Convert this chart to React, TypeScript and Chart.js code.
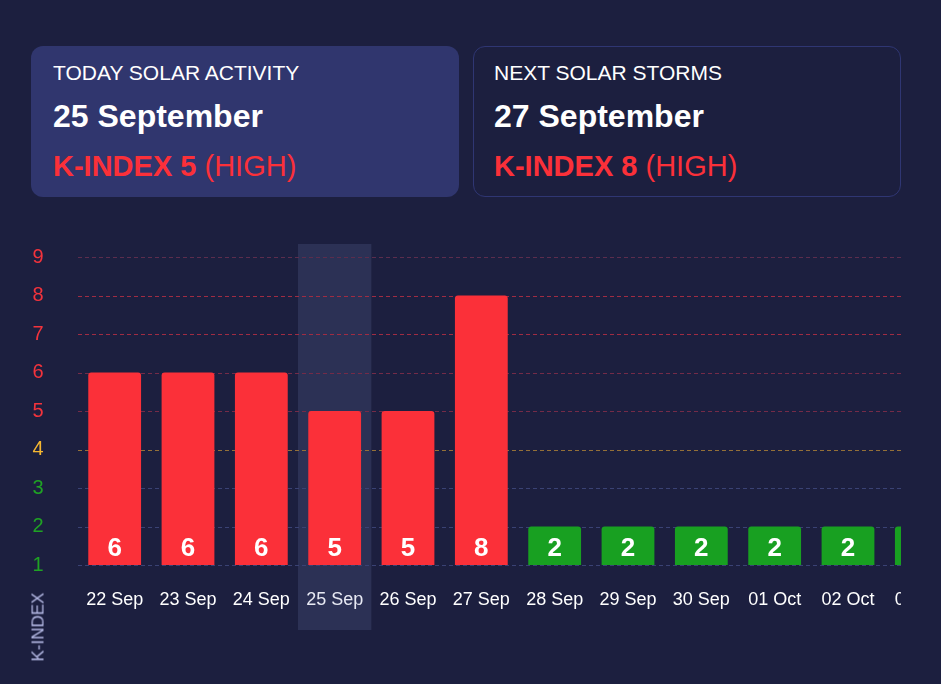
import React, { useEffect, useRef } from "react";
import { Chart, registerables } from "chart.js";

Chart.register(...registerables);

const categories = ["22 Sep", "23 Sep", "24 Sep", "25 Sep", "26 Sep", "27 Sep", "28 Sep", "29 Sep", "30 Sep", "01 Oct", "02 Oct", "03 Oct"];
const kIndexValues = [6, 6, 6, 5, 5, 8, 2, 2, 2, 2, 2, 2];
const yTickValues = [1, 2, 3, 4, 5, 6, 7, 8, 9];
const highlightIndex = 3;

const RED = "#fb3039";
const GREEN = "#18a021";
const YELLOW = "#f5b731";
const BG = "#1c1f3f";
const FONT = '"Liberation Sans", Arial, Helvetica, sans-serif';

function tickColor(v: number) {
  if (v >= 5) return "#f3333c";
  if (v === 4) return YELLOW;
  return "#1fa324";
}

function gridColor(v: number) {
  if (v === 9) return "#5c2d4d";
  if (v >= 7) return "#a02c43";
  if (v >= 5) return "#742b48";
  if (v === 4) return "#947038";
  return "#3a4274";
}

const gridPlugin = {
  id: "highlightAndGrid",
  beforeDatasetsDraw(chart: any) {
    const { ctx, scales, chartArea } = chart;
    const x = scales.x;
    const y = scales.y;
    const w = x.getPixelForValue(1) - x.getPixelForValue(0);
    const cx = x.getPixelForValue(highlightIndex);
    const top = y.getPixelForValue(9) - 13;
    const bottom = y.getPixelForValue(1) + 65;
    ctx.save();
    ctx.fillStyle = "rgba(120,135,190,0.18)";
    ctx.fillRect(cx - w / 2, top, w, bottom - top);
    ctx.lineWidth = 1;
    ctx.setLineDash([4, 3]);
    yTickValues.forEach((v) => {
      const py = Math.round(y.getPixelForValue(v)) + 0.5;
      ctx.strokeStyle = gridColor(v);
      ctx.beginPath();
      ctx.moveTo(chartArea.left, py);
      ctx.lineTo(chartArea.right, py);
      ctx.stroke();
    });
    ctx.restore();
  },
};

const valueLabelPlugin = {
  id: "valueLabels",
  afterDatasetsDraw(chart: any) {
    const { ctx, scales } = chart;
    const meta = chart.getDatasetMeta(0);
    const yBase = scales.y.getPixelForValue(1);
    ctx.save();
    ctx.fillStyle = "#ffffff";
    ctx.font = `bold 26px ${FONT}`;
    ctx.textAlign = "center";
    ctx.textBaseline = "middle";
    meta.data.forEach((bar: any, i: number) => {
      ctx.fillText(String(kIndexValues[i]), bar.x, yBase - 16);
    });
    ctx.restore();
  },
};

function KChart() {
  const ref = useRef<HTMLCanvasElement | null>(null);
  useEffect(() => {
    if (!ref.current) return;
    const chart = new Chart(ref.current, {
      type: "bar",
      data: {
        labels: categories,
        datasets: [
          {
            data: kIndexValues,
            backgroundColor: kIndexValues.map((v) => (v >= 5 ? RED : v === 4 ? YELLOW : GREEN)),
            borderRadius: { topLeft: 3, topRight: 3, bottomLeft: 0, bottomRight: 0 },
            borderSkipped: false,
            barPercentage: 0.72,
            categoryPercentage: 1,
          },
        ],
      },
      options: {
        animation: false,
        responsive: false,
        maintainAspectRatio: false,
        layout: { padding: { top: 27, right: 0, bottom: 0, left: 0 } },
        plugins: { legend: { display: false }, tooltip: { enabled: false } },
        scales: {
          x: {
            grid: { display: false, drawTicks: false },
            border: { display: false },
            ticks: {
              color: "#ffffff",
              font: { family: FONT, size: 18 },
              padding: 24,
              maxRotation: 0,
              autoSkip: false,
            },
            afterFit(scale: any) {
              scale.height = 85;
              scale.paddingLeft = 0;
              scale.paddingRight = 0;
            },
          },
          y: {
            min: 1,
            max: 9,
            afterBuildTicks(scale: any) {
              scale.ticks = yTickValues.map((v) => ({ value: v }));
            },
            grid: { display: false, drawTicks: false },
            border: { display: false },
            ticks: {
              color: yTickValues.map(tickColor),
              font: { family: FONT, size: 20 },
              padding: 34.5,
            },
            afterFit(scale: any) {
              scale.width = 78;
              scale.paddingTop = 0;
              scale.paddingBottom = 0;
            },
          },
        },
      },
      plugins: [gridPlugin, valueLabelPlugin],
    });
    return () => chart.destroy();
  }, []);
  return <canvas ref={ref} width={958} height={420} style={{ display: "block", width: 958, height: 420 }} />;
}

const cardBase: React.CSSProperties = {
  position: "absolute",
  top: 46,
  width: 428,
  height: 151,
  boxSizing: "border-box",
  borderRadius: 12,
  fontFamily: FONT,
  color: "#ffffff",
};

function Card({ left, title, date, kText, level, filled }: any) {
  return (
    <div
      style={{
        ...cardBase,
        left,
        background: filled ? "#30366e" : "transparent",
        border: filled ? "none" : "1px solid #2f3673",
      }}
    >
      <div style={{ position: "absolute", left: filled ? 22 : 20, top: filled ? 15.5 : 14.5, fontSize: 21, lineHeight: "21px", whiteSpace: "nowrap" }}>
        {title}
      </div>
      <div style={{ position: "absolute", left: filled ? 22 : 20, top: filled ? 54 : 53, fontSize: 32, lineHeight: "32px", fontWeight: "bold", whiteSpace: "nowrap" }}>
        {date}
      </div>
      <div style={{ position: "absolute", left: filled ? 22 : 20, top: filled ? 105.5 : 104.5, fontSize: 29, lineHeight: "29px", color: RED, whiteSpace: "nowrap" }}>
        <span style={{ fontWeight: "bold" }}>{kText}</span> <span>{level}</span>
      </div>
    </div>
  );
}

export default function App() {
  return (
    <div style={{ position: "absolute", left: 0, top: 0, width: 941, height: 684, background: BG, overflow: "hidden" }}>
      <Card left={31} filled title="TODAY SOLAR ACTIVITY" date="25 September" kText="K-INDEX 5" level="(HIGH)" />
      <Card left={473} title="NEXT SOLAR STORMS" date="27 September" kText="K-INDEX 8" level="(HIGH)" />
      <div style={{ position: "absolute", left: 0, top: 230, width: 901, height: 420, overflow: "hidden" }}>
        <KChart />
      </div>
      <div
        style={{
          position: "absolute",
          left: 38,
          top: 627,
          transform: "translate(-50%, -50%) rotate(-90deg)",
          fontFamily: FONT,
          fontSize: 17,
          lineHeight: "17px",
          color: "#b6bae6",
          whiteSpace: "nowrap",
        }}
      >
        K-INDEX
      </div>
    </div>
  );
}
